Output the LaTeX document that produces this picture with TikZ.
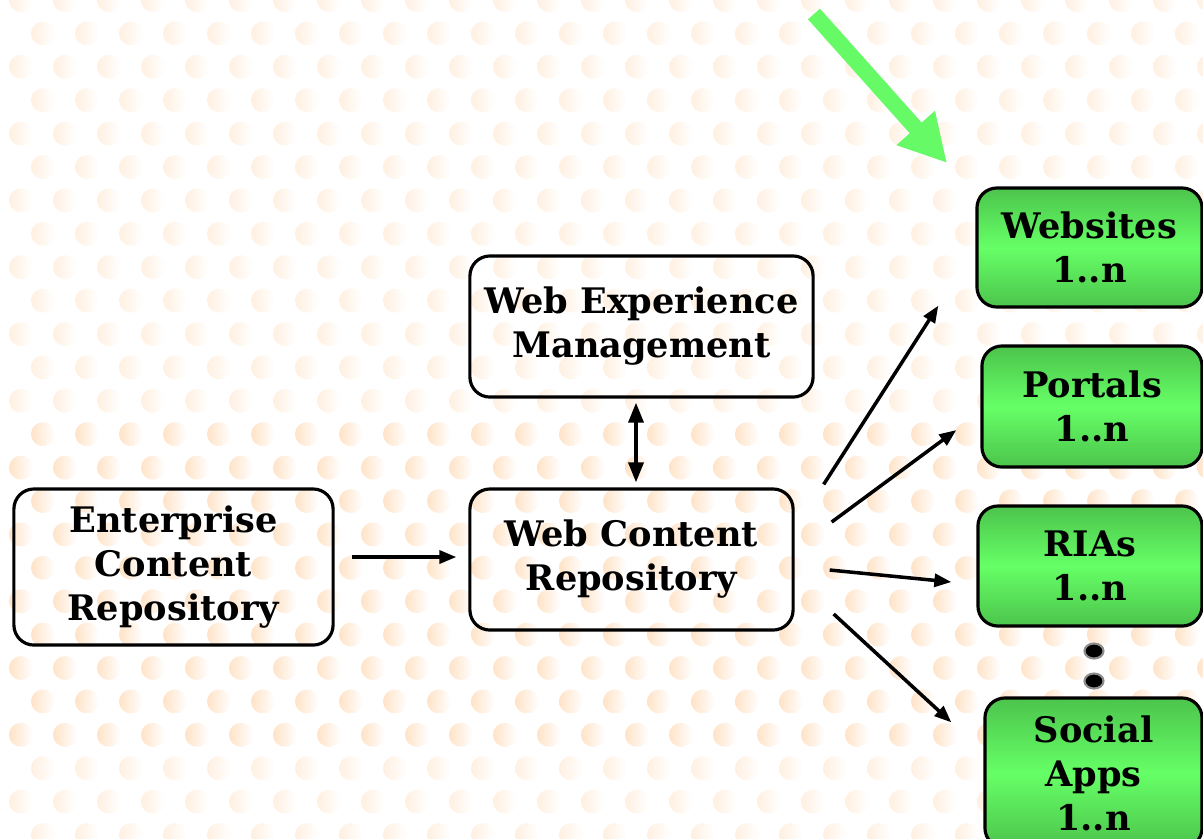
\documentclass[tikz,border=0pt]{standalone}
\usepackage{fontspec}
\setmainfont{DejaVu Serif}
\usetikzlibrary{arrows.meta,calc,shapes.geometric}
\definecolor{boxgreen}{RGB}{102,255,102}
\definecolor{boxgreendark}{RGB}{76,196,76}
\definecolor{arrowgreen}{RGB}{102,250,102}

\begin{document}
\begin{tikzpicture}[x=0.01cm,y=-0.01cm]

%
% Styles
%
\tikzstyle{block}  = [draw,rounded corners=0.2cm,line width=0.9pt,align=center,font=\fontsize{10}{12.5}\selectfont\bfseries]
\tikzstyle{target} = [block,top color=boxgreendark,bottom color=boxgreendark,middle color=boxgreen]
\tikzstyle{edge}   = [-{Triangle[length=0.17cm,width=0.13cm]},line width=1pt]
\tikzstyle{both}   = [{Triangle[length=0.2cm,width=0.15cm]}-{Triangle[length=0.2cm,width=0.15cm]},line width=1pt]
\tikzstyle{vdot}   = [ellipse,draw=black!45,line width=0.6pt,fill=black,minimum width=0.19cm,minimum height=0.15cm,inner sep=0pt]

\useasboundingbox (0,0) rectangle (1203,838);
\fill[white] (0,0) rectangle (1203,838);

% background dots
\foreach \r in {0,...,25} {
  \foreach \c in {0,...,27} {
    \pgfmathsetmacro{\dx}{21+44*\c+22*mod(\r,2)}
    \pgfmathsetmacro{\dy}{33.4*\r}
    \pgfmathtruncatemacro{\dk}{(\dy>420)&&(\dy<740) ? 22 : 12}
    \shade[left color=orange!\dk,right color=white] (\dx,\dy) circle[radius=0.12cm];
  }
}

\node[block,minimum width=3.19cm,minimum height=1.56cm] (ecr) at (173.5,567) {Enterprise\\Content\\Repository};
\node[block,minimum width=3.23cm,minimum height=1.41cm] (wcr) at (631.5,559.5) {Web Content\\Repository};
\node[block,minimum width=3.43cm,minimum height=1.41cm] (wem) at (641.5,326.5) {Web Experience\\Management};

\node[target,minimum width=2.25cm,minimum height=1.19cm] (websites) at (1089.5,247.5) {Websites\\1..n};
\node[target,minimum width=2.20cm,minimum height=1.21cm] (portals)  at (1092,406.5)   {Portals\\1..n};
\node[target,minimum width=2.24cm,minimum height=1.20cm] (rias)     at (1090,566)     {RIAs\\1..n};
\node[target,minimum width=2.17cm,minimum height=1.50cm] (social)   at (1093.5,773)   {Social\\Apps\\1..n};

\node[vdot] (more1) at (1094,651) {};
\node[vdot] (more2) at (1094,681) {};

\draw[edge] ($(ecr.east)+(17,-10)$) -- ($(wcr.west)+(-12,-2.5)$);
\draw[both] ($(wem.south)+(-5.5,4)$) -- ($(wcr.north)+(4.5,-5)$);

\draw[edge] ($(wcr.north east)+(29,-3)$) -- ($(websites.south west)+(-37,-3)$);
\draw[edge] ($(wcr.east)+(37,-37.5)$)    -- ($(portals.west)+(-24,23.5)$);
\draw[edge] ($(wcr.east)+(35,10.5)$)     -- ($(rias.west)+(-25,16)$);
\draw[edge] ($(wcr.east)+(39,54.5)$)     -- ($(social.north west)+(-32,26)$);

\coordinate (gtail) at (814,14);
\coordinate (ghead) at (947,163);
\draw[arrowgreen,line width=0.16cm,-{Triangle[length=0.47cm,width=0.48cm]}] (gtail) -- (ghead);

\end{tikzpicture}
\end{document}
